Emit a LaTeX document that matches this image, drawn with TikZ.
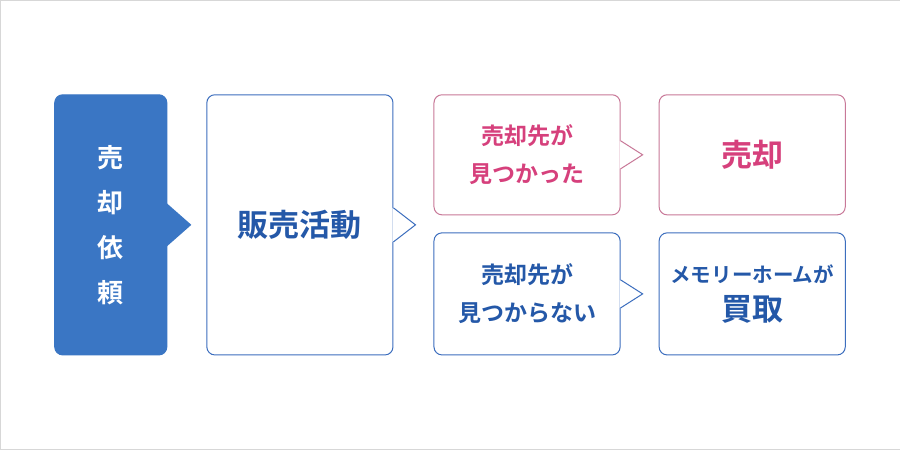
\documentclass[tikz,border=0pt]{standalone}
\usepackage{fontspec}
\newfontfamily\jpfont{Noto Sans CJK JP Bold}
\usetikzlibrary{positioning, calc}
\definecolor{mainblue}{RGB}{58,118,196}
\definecolor{lineblue}{RGB}{60,110,190}
\definecolor{textblue}{RGB}{36,88,168}
\definecolor{pinktext}{RGB}{214,64,124}
\definecolor{pinkline}{RGB}{200,120,152}
\definecolor{frame}{RGB}{215,215,215}
\tikzset{
  box/.style={draw=lineblue, line width=1pt, fill=white, rounded corners=8pt, align=center, font=\jpfont, text=textblue},
  pinkbox/.style={box, draw=pinkline, text=pinktext},
  startbox/.style={box, draw=mainblue, fill=mainblue, text=white}
}
% pointer on the east side of a box: #1 node, #2 half height, #3 length, #4 colour
\newcommand{\pointer}[4]{
  \fill[white] ($(#1.east)+(-1,#2)$) -- ($(#1.east)+(#3,0)$) -- ($(#1.east)+(-1,-#2)$) -- cycle;
  \draw[#4, line width=1pt] ($(#1.east)+(0,#2)$) -- ($(#1.east)+(#3,0)$) -- ($(#1.east)+(0,-#2)$);
}
\begin{document}
\begin{tikzpicture}[x=1pt, y=-1pt]
  \draw[frame, fill=white] (0.5,0.5) rectangle (899.5,449.5);

  \node[startbox, minimum width=112pt, minimum height=260pt, font=\jpfont\fontsize{26}{45}\selectfont] (req) at (111,225) {売\\却\\依\\頼};
  \fill[mainblue] ($(req.east)+(-1,-22)$) -- ($(req.east)+(24,0)$) -- ($(req.east)+(-1,22)$) -- cycle;

  \node[box, minimum width=186pt, minimum height=260pt, font=\jpfont\fontsize{31}{36}\selectfont] (sale) at (300,225) {販売活動};
  \pointer{sale}{17}{22}{lineblue}

  \node[pinkbox, minimum width=186pt, minimum height=120pt, font=\jpfont\fontsize{23}{38}\selectfont] (found) at (527,155) {売却先が\\見つかった};
  \pointer{found}{14}{22}{pinkline}

  \node[pinkbox, minimum width=186pt, minimum height=120pt, font=\jpfont\fontsize{31}{36}\selectfont] (sold) at (752,155) {売却};

  \node[box, minimum width=186pt, minimum height=122pt, font=\jpfont\fontsize{23}{38}\selectfont] (notfound) at (527,294) {売却先が\\見つからない};
  \pointer{notfound}{14}{22}{lineblue}

  \node[box, minimum width=186pt, minimum height=122pt, font=\jpfont\fontsize{20.5}{38}\selectfont] (buy) at (752,294) {メモリーホームが\\{\fontsize{31}{36}\selectfont 買取}};
\end{tikzpicture}
\end{document}
